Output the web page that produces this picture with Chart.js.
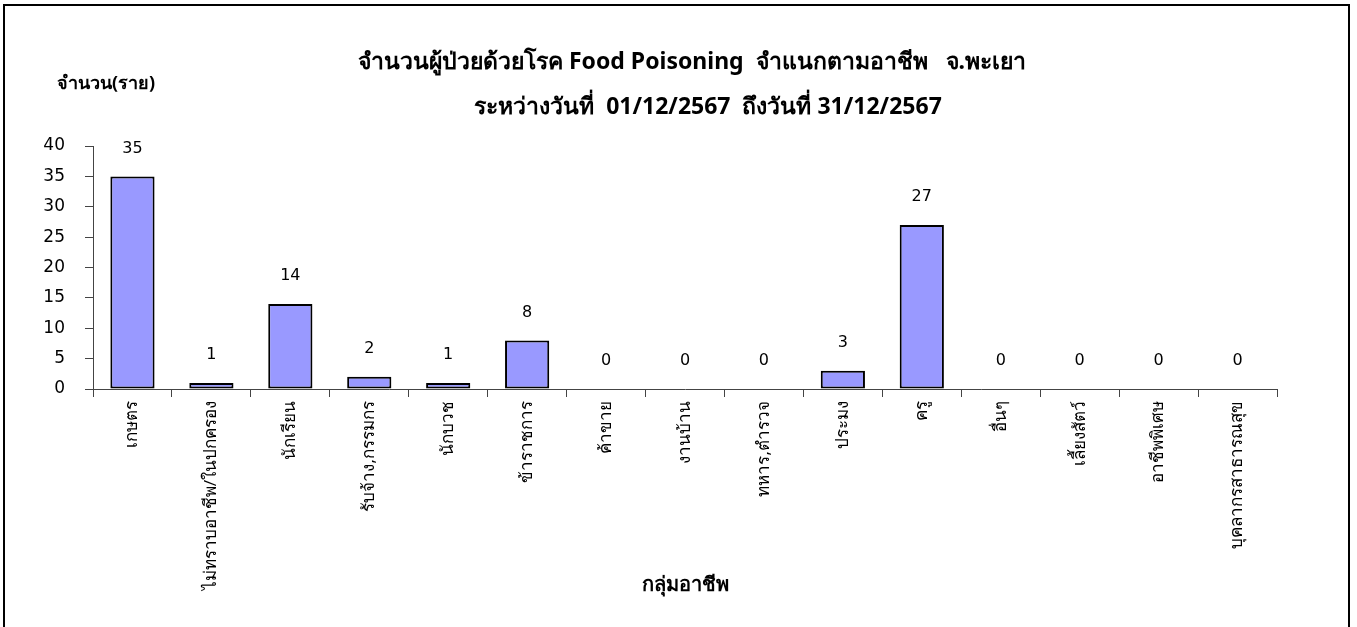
<!DOCTYPE html>
<html lang="th">
<head>
  <meta charset="UTF-8">
  <title>Food Poisoning จำแนกตามอาชีพ</title>
  <script src="https://cdn.jsdelivr.net/npm/chart.js@4.4.0/dist/chart.umd.min.js"></script>
  <style>
    html, body { margin: 0; padding: 0; background: #fff; }
    #wrap { position: relative; width: 1357px; height: 627px; }
    #frame { position: absolute; left: 3px; top: 4px; width: 1347px; height: 640px; border: 2px solid #000; box-sizing: border-box; pointer-events: none; }
  </style>
</head>
<body>
  <div id="wrap">
    <canvas id="chart" width="1357" height="627"></canvas>
    <div id="frame"></div>
  </div>

  <script>
    // ข้อมูล
    const occupations = [
      'เกษตร', 'ไม่ทราบอาชีพ/ในปกครอง', 'นักเรียน', 'รับจ้าง,กรรมกร', 'นักบวช',
      'ข้าราชการ', 'ค้าขาย', 'งานบ้าน', 'ทหาร,ตำรวจ', 'ประมง',
      'ครู', 'อื่นๆ', 'เลี้ยงสัตว์', 'อาชีพพิเศษ', 'บุคลากรสาธารณสุข'
    ];
    const cases = [35, 1, 14, 2, 1, 8, 0, 0, 0, 3, 27, 0, 0, 0, 0];
    const titleLines = [
      'จำนวนผู้ป่วยด้วยโรค Food Poisoning  จำแนกตามอาชีพ   จ.พะเยา',
      'ระหว่างวันที่  01/12/2567  ถึงวันที่ 31/12/2567'
    ];
    const yTitle = 'จำนวน(ราย)';
    const xTitle = 'กลุ่มอาชีพ';

    const thaiFont = '"Noto Sans", "DejaVu Sans", sans-serif';
    const numFont = '"DejaVu Sans", sans-serif';

    // ชื่อกราฟ, ชื่อแกน y และตัวเลขบนแท่ง
    const textPlugin = {
      id: 'texts',
      afterDatasetsDraw(chart) {
        const ctx = chart.ctx;
        ctx.save();
        ctx.fillStyle = '#000';
        ctx.textAlign = 'center';
        ctx.textBaseline = 'middle';
        ctx.font = 'bold 23px ' + thaiFont;
        ctx.fillText(titleLines[0], 692, 62);
        ctx.fillText(titleLines[1], 708, 107);

        ctx.textAlign = 'left';
        ctx.font = 'bold 18px ' + thaiFont;
        ctx.fillText(yTitle, 57, 84);

        // ตัวเลขเหนือแท่ง
        ctx.textAlign = 'center';
        ctx.font = '16px ' + numFont;
        const meta = chart.getDatasetMeta(0);
        meta.data.forEach((bar, i) => {
          ctx.fillText(String(cases[i]), bar.x, bar.y - 28);
        });
        ctx.restore();
      }
    };

    function initChart() {
      const ctx = document.getElementById('chart').getContext('2d');
      new Chart(ctx, {
        type: 'bar',
        data: {
          labels: occupations,
          datasets: [{
            data: cases,
            backgroundColor: '#9999ff',
            borderColor: '#000',
            borderWidth: 2,
            borderSkipped: false,
            barPercentage: 0.56,
            categoryPercentage: 1
          }]
        },
        options: {
          responsive: false,
          animation: false,
          layout: { padding: { left: 0, right: 80, top: 146, bottom: 0 } },
          plugins: {
            legend: { display: false },
            title: { display: false },
            tooltip: { enabled: false }
          },
          scales: {
            x: {
              afterFit(scale) { scale.height = 238; },
              grid: { offset: true, drawOnChartArea: false, drawTicks: true, tickLength: 8, color: '#444' },
              border: { display: true, color: '#444', width: 1 },
              ticks: {
                color: '#000',
                font: { family: thaiFont, size: 17 },
                minRotation: 90,
                maxRotation: 90,
                autoSkip: false,
                padding: 4
              },
              title: {
                display: true,
                text: xTitle,
                color: '#000',
                font: { family: thaiFont, size: 20, weight: 'bold' },
                padding: { top: 0, bottom: 30 }
              }
            },
            y: {
              min: 0,
              max: 40,
              afterFit(scale) { scale.width = 93; },
              grid: { drawOnChartArea: false, drawTicks: true, tickLength: 8, color: '#444' },
              border: { display: true, color: '#444', width: 1 },
              ticks: {
                stepSize: 5,
                color: '#000',
                font: { family: numFont, size: 17 },
                padding: 20
              }
            }
          }
        },
        plugins: [textPlugin]
      });
    }

    initChart();
  </script>
</body>
</html>
